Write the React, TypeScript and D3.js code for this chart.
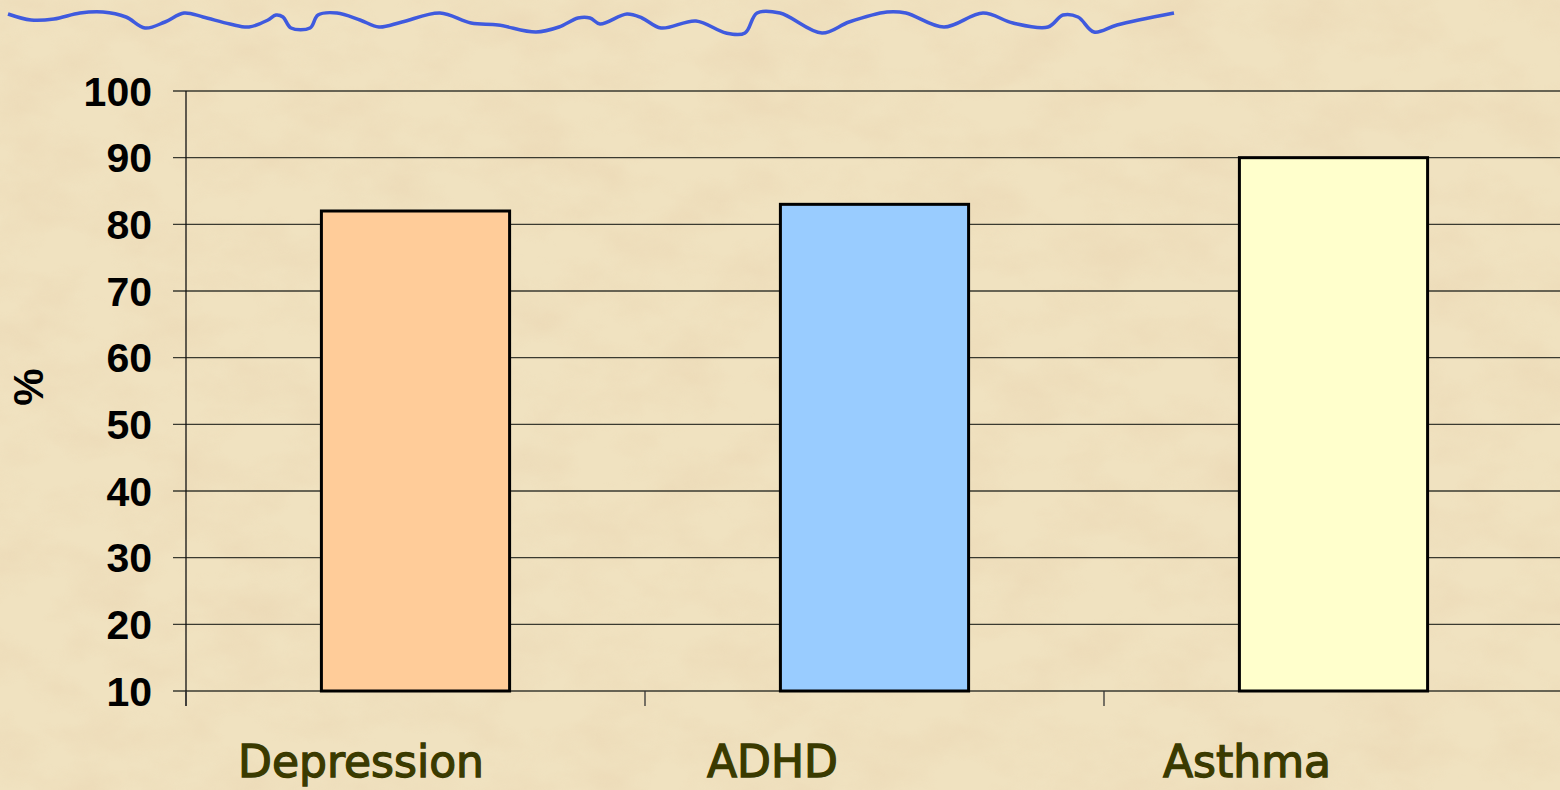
import React, { useRef, useEffect } from 'react';
import * as d3 from 'd3';

const categories = ['Depression', 'ADHD', 'Asthma'];
const values = [82, 83, 90];
const barColors = ['#ffcc99', '#99ccff', '#ffffcc'];
const yTicks = [10, 20, 30, 40, 50, 60, 70, 80, 90, 100];
// label start offsets within each category band (layout only)
const labelOffsets = [52, 62, 59];

// decorative wavy line across the top of the slide
const wavePoints: [number, number][] = [
  [8, 14], [31, 20], [54, 19], [80, 13], [103, 12], [126, 17], [145, 28], [165, 22],
  [184, 13], [203, 17], [230, 24], [249, 27], [268, 20], [276, 15], [283, 17], [291, 28],
  [310, 28], [318, 15], [337, 13], [360, 20], [379, 27], [402, 22], [440, 13], [471, 23],
  [498, 25], [536, 32], [559, 27], [578, 18], [590, 18], [600, 24], [627, 14], [642, 18],
  [661, 28], [696, 21], [726, 33], [745, 33], [757, 13], [780, 13], [822, 33], [849, 22],
  [887, 12], [906, 13], [944, 27], [983, 13], [1013, 23], [1048, 27], [1063, 15], [1078, 17],
  [1094, 32], [1117, 25], [1174, 13],
];

const W = 1560;
const H = 790;

const App = () => {
  const svgRef = useRef<SVGSVGElement>(null);

  useEffect(() => {
    const svg = d3.select(svgRef.current).attr('width', W).attr('height', H);
    svg.selectAll('*').remove();

    // parchment background
    const defs = svg.append('defs');
    const f = defs.append('filter').attr('id', 'paper').attr('x', 0).attr('y', 0).attr('width', '100%').attr('height', '100%');
    f.append('feTurbulence').attr('type', 'fractalNoise').attr('baseFrequency', '0.014 0.022').attr('numOctaves', 4).attr('seed', 7).attr('result', 'n');
    f.append('feColorMatrix').attr('in', 'n').attr('type', 'matrix')
      .attr('values', '0 0 0 0 0.82  0 0 0 0 0.66  0 0 0 0 0.44  1.6 0 0 0 -0.6');
    svg.append('rect').attr('width', W).attr('height', H).attr('fill', '#f0e2c0');
    svg.append('rect').attr('width', W).attr('height', H).attr('filter', 'url(#paper)').attr('opacity', 0.6);

    svg.append('path')
      .attr('d', d3.line().curve(d3.curveCatmullRom)(wavePoints))
      .attr('fill', 'none')
      .attr('stroke', '#3f5ade')
      .attr('stroke-width', 3.5);

    const left = 186, right = 1563, top = 91, bottom = 691;
    const x = d3.scaleBand().domain(categories).range([left, right]).paddingInner(0.59).paddingOuter(0.295);
    const xb = d3.scaleBand().domain(categories).range([left, right]);
    const y = d3.scaleLinear().domain([10, 100]).range([bottom, top]);

    // gridlines
    svg.append('g').selectAll('line').data(yTicks).enter().append('line')
      .attr('x1', left - 13).attr('x2', W)
      .attr('y1', d => y(d)).attr('y2', d => y(d))
      .attr('stroke', '#3a3a30').attr('stroke-width', 1.3);

    // y axis line
    svg.append('line').attr('x1', left).attr('x2', left).attr('y1', top).attr('y2', bottom + 15)
      .attr('stroke', '#111').attr('stroke-width', 1.3);

    // x ticks at category boundaries
    svg.append('g').selectAll('line').data(categories).enter().append('line')
      .attr('x1', d => xb(d)!).attr('x2', d => xb(d)!)
      .attr('y1', bottom).attr('y2', bottom + 15)
      .attr('stroke', '#333').attr('stroke-width', 1.3);

    // bars
    svg.append('g').selectAll('rect').data(values).enter().append('rect')
      .attr('x', (d, i) => x(categories[i])!)
      .attr('y', d => y(d))
      .attr('width', x.bandwidth())
      .attr('height', d => y(10) - y(d))
      .attr('fill', (d, i) => barColors[i])
      .attr('stroke', '#000')
      .attr('stroke-width', 3);

    // y tick labels
    svg.append('g').selectAll('text').data(yTicks).enter().append('text')
      .attr('x', 152)
      .attr('y', d => y(d) + 14.5)
      .attr('text-anchor', 'end')
      .attr('font-family', 'Liberation Sans, Arial, sans-serif')
      .attr('font-weight', 'bold')
      .attr('font-size', 41)
      .attr('fill', '#000')
      .text(d => d);

    // category labels
    svg.append('g').selectAll('text').data(categories).enter().append('text')
      .attr('x', (d, i) => xb(d)! + labelOffsets[i])
      .attr('y', 777)
      .attr('text-anchor', 'start')
      .attr('font-family', 'DejaVu Sans, sans-serif')
      .attr('font-size', 44)
      .attr('fill', '#3a3a00')
      .attr('stroke', '#3a3a00')
      .attr('stroke-width', 1.3)
      .text(d => d);

    svg.append('text')
      .attr('transform', 'translate(43, 387) rotate(-90)')
      .attr('text-anchor', 'middle')
      .attr('font-family', 'Liberation Sans, Arial, sans-serif')
      .attr('font-weight', 'bold')
      .attr('font-size', 42)
      .attr('fill', '#000')
      .text('%');
  }, []);

  return (
    <div style={{ position: 'fixed', left: 0, top: 0, width: W, height: H, overflow: 'hidden' }}>
      <svg ref={svgRef} style={{ display: 'block' }}></svg>
    </div>
  );
};

export default App;
